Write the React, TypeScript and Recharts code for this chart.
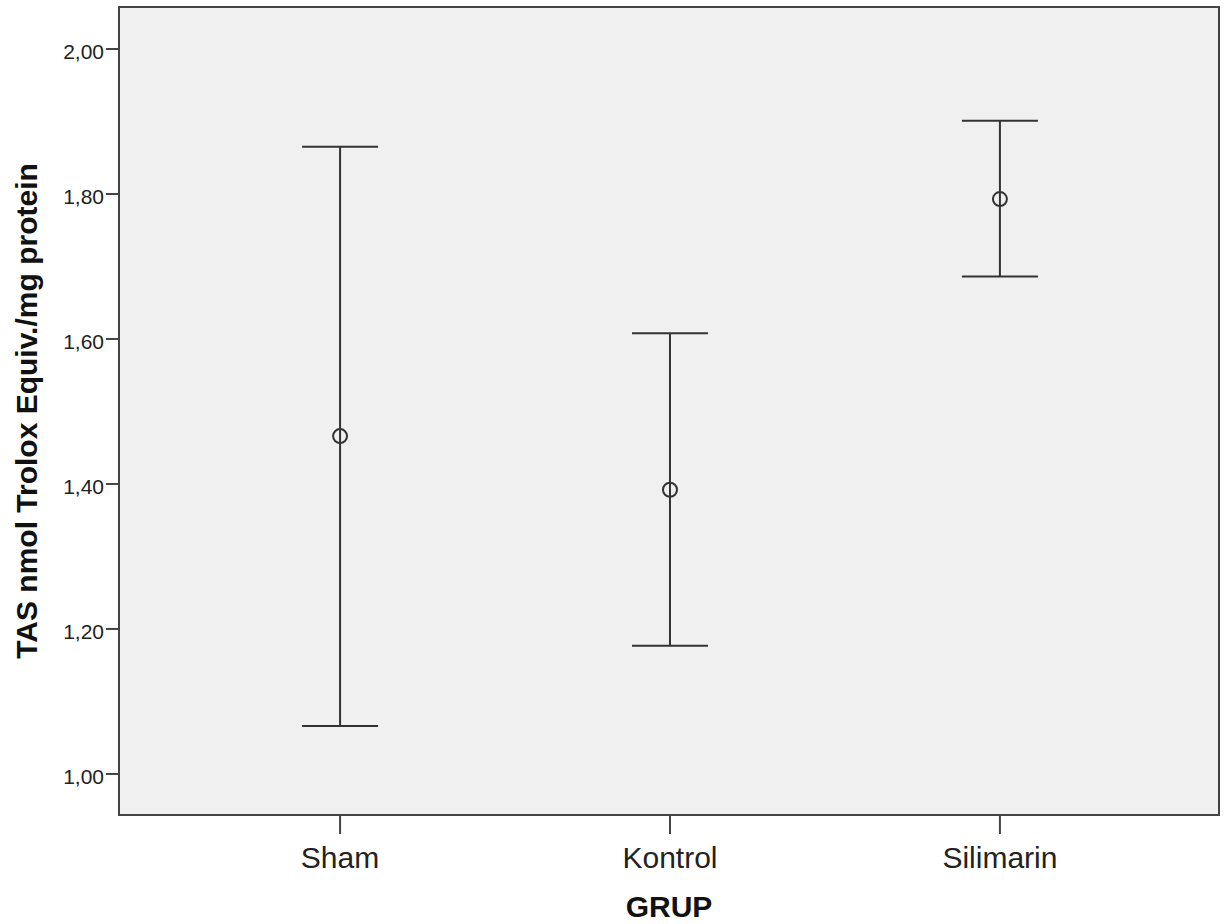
import {
  ComposedChart,
  Scatter,
  ErrorBar,
  XAxis,
  YAxis,
  ReferenceArea,
} from "recharts";

const groups = ["Sham", "Kontrol", "Silimarin"];
const means = [1.466, 1.392, 1.793];
const lowers = [1.066, 1.177, 1.686];
const uppers = [1.865, 1.608, 1.901];
const yTicks = [1.0, 1.2, 1.4, 1.6, 1.8, 2.0];

const X_DOMAIN: [number, number] = [0.33, 3.664];
const Y_DOMAIN: [number, number] = [0.9434, 2.0579];

const INK = "#333333";
const FONT = "Arial, 'Liberation Sans', sans-serif";

const rows = groups.map((g, i) => ({
  pos: i + 1,
  group: g,
  mean: means[i],
  err: [means[i] - lowers[i], uppers[i] - means[i]],
}));

function MeanMarker(props: { cx?: number; cy?: number }) {
  if (props.cx == null || props.cy == null) return null;
  return <circle cx={props.cx} cy={props.cy} r={7} fill="none" stroke={INK} strokeWidth={2} />;
}

export default function App() {
  return (
    <div style={{ position: "absolute", left: 0, top: 0, width: 1232, height: 924, background: "#fff" }}>
      <ComposedChart
        width={1232}
        height={924}
        data={rows}
        margin={{ top: 7, right: 13, bottom: 0, left: 0 }}
      >
        <ReferenceArea
          x1={X_DOMAIN[0]}
          x2={X_DOMAIN[1]}
          y1={Y_DOMAIN[0]}
          y2={Y_DOMAIN[1]}
          fill="#f0f0f0"
          fillOpacity={1}
          stroke="#444"
          strokeWidth={2}
        />
        <XAxis
          type="number"
          dataKey="pos"
          domain={X_DOMAIN}
          allowDataOverflow
          ticks={[1, 2, 3]}
          tickFormatter={(v: number) => groups[v - 1] ?? ""}
          height={109}
          tickSize={19}
          tickMargin={13}
          axisLine={{ stroke: "#444", strokeWidth: 2 }}
          tickLine={{ stroke: "#444", strokeWidth: 2 }}
          tick={{ fill: "#222", fontSize: 30, fontFamily: FONT }}
          label={{
            value: "GRUP",
            position: "insideBottom",
            offset: 7,
            style: { fontSize: 30, fontWeight: 700, fontFamily: FONT, fill: "#111" },
          }}
        />
        <YAxis
          type="number"
          dataKey="mean"
          domain={Y_DOMAIN}
          allowDataOverflow
          ticks={yTicks}
          tickFormatter={(v: number) => v.toFixed(2).replace(".", ",")}
          width={119}
          tickSize={13}
          tickMargin={2}
          axisLine={{ stroke: "#444", strokeWidth: 2 }}
          tickLine={{ stroke: "#444", strokeWidth: 2 }}
          tick={{ fill: "#222", fontSize: 21, fontFamily: FONT, dy: 3 }}
          label={{
            value: "TAS nmol Trolox Equiv./mg protein",
            angle: -90,
            position: "insideLeft",
            offset: 26,
            style: { textAnchor: "middle", fontSize: 30, fontWeight: 700, fontFamily: FONT, fill: "#111" },
          }}
        />
        <Scatter dataKey="mean" shape={<MeanMarker />} isAnimationActive={false}>
          <ErrorBar dataKey="err" direction="y" width={38} stroke={INK} strokeWidth={2} isAnimationActive={false} />
        </Scatter>
      </ComposedChart>
    </div>
  );
}
